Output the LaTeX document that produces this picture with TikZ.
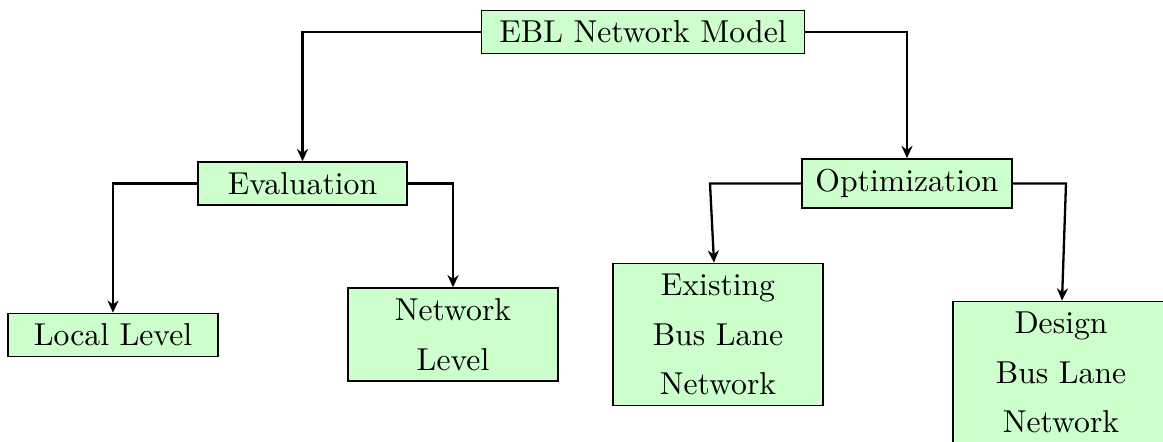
\documentclass[tikz,border=0pt]{standalone}
\usetikzlibrary{arrows.meta}
\def\pxu{0.3252pt}
\tikzset{
  box/.style={draw=black, line width=0.55pt, fill=green!20, align=center,
    inner sep=3.333pt, minimum width={210*\pxu},
    font=\fontsize{10.3pt}{16.2pt}\selectfont},
  link/.style={line width=0.75pt, -{Stealth[length=4pt,width=3.6pt,inset=1.3pt]}}
}
\begin{document}
\begin{tikzpicture}[x=\pxu, y=-\pxu]
\useasboundingbox (0,0) rectangle (1163,441);

% top level
\node[box, minimum width={323*\pxu}] (ebl) at (643,32) {EBL Network Model};

% second level
\node[box, minimum width={209*\pxu}] (eval) at (302.5,183.5) {Evaluation};
\node[box] (opt) at (907,183.5) {Optimization};

% leaves
\node[box] (local) at (113,335) {Local Level};
\node[box] (netl) at (453,334.5) {Network\\Level};
\node[box] (exist) at (718,334.5) {Existing\\Bus Lane\\Network};
\node[box, minimum width={216*\pxu}] (design) at (1061,372.5) {Design\\Bus Lane\\Network};

% connectors
\draw[link] (ebl.west) -| (eval.north);
\draw[link] (ebl.east) -| (opt.north);
\draw[link] (eval.west) -| (local.north);
\draw[link] (eval.east) -| (netl.north);
\coordinate (ol) at (710,183.5);
\coordinate (or) at (1066,183.5);
\draw[link] (opt.west) -- (ol) -- ([xshift={-4*\pxu}]exist.north);
\draw[link] (opt.east) -- (or) -- ([xshift={1*\pxu}]design.north);
\end{tikzpicture}
\end{document}
